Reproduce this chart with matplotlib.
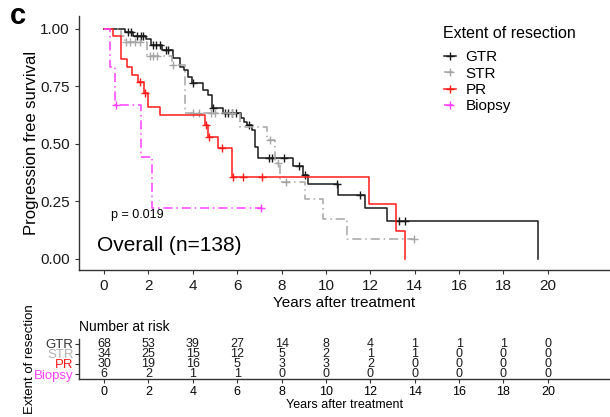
import numpy as np
import matplotlib
matplotlib.use("Agg")
import matplotlib.pyplot as plt
from matplotlib.lines import Line2D

plt.rcParams['font.family'] = ['Liberation Sans', 'DejaVu Sans']

# step curves (time in years, survival)
gtr_t = [0, 0.95, 1.3, 1.9, 2.1, 2.6, 3.1, 3.4, 3.6, 3.8, 3.95, 4.45, 4.7, 4.85, 5.35,
         6.15, 6.3, 6.45, 6.65, 6.8, 6.95, 8.53, 8.98, 9.2, 10.55, 11.76, 12.73, 19.56]
gtr_s = [1.0, 0.985, 0.971, 0.956, 0.93, 0.91, 0.873, 0.836, 0.822, 0.793, 0.764, 0.735, 0.713, 0.655, 0.633,
         0.611, 0.597, 0.583, 0.561, 0.488, 0.438, 0.405, 0.365, 0.326, 0.278, 0.222, 0.167, 0.0]
gtr_cens = [1.1, 1.2, 1.5, 1.65, 1.75, 2.2, 2.35, 2.5, 2.8, 2.9, 4.0, 4.9, 5.45, 5.6, 5.75, 5.95,
            6.55, 7.45, 7.55, 8.1, 8.8, 9.05, 10.48, 11.53, 13.3, 13.56]

str_t = [0, 0.75, 0.95, 1.92, 3.05, 3.65, 6.13, 7.33, 7.7, 7.93, 9.05, 9.88, 10.96, 13.96]
str_s = [1.0, 0.971, 0.941, 0.88, 0.843, 0.633, 0.575, 0.517, 0.416, 0.336, 0.26, 0.173, 0.086, 0.086]
str_cens = [1.0, 1.15, 1.4, 1.6, 2.07, 2.2, 2.37, 3.12, 4.0, 4.3, 4.8, 5.0, 5.75, 7.5, 7.85, 8.22, 13.96]

pr_t = [0, 0.42, 0.75, 1.02, 1.25, 1.55, 1.78, 2.0, 2.52, 4.55, 4.7, 5.15, 5.75, 11.95, 13.15, 13.56]
pr_s = [1.0, 0.967, 0.867, 0.833, 0.8, 0.767, 0.72, 0.66, 0.625, 0.583, 0.532, 0.481, 0.358, 0.24, 0.12, 0.0]
pr_cens = [1.62, 1.85, 4.6, 4.75, 5.3, 5.8, 6.28, 7.1]

bx_t = [0, 0.27, 0.5, 1.67, 2.17, 7.07]
bx_s = [1.0, 0.833, 0.667, 0.444, 0.222, 0.222]
bx_cens = [0.55, 7.07]

# number at risk
risk_times = [0, 2, 4, 6, 8, 10, 12, 14, 16, 18, 20]
gtr_risk = [68, 53, 39, 27, 14, 8, 4, 1, 1, 1, 0]
str_risk = [34, 25, 15, 12, 5, 2, 1, 1, 0, 0, 0]
pr_risk = [30, 19, 16, 5, 3, 3, 2, 0, 0, 0, 0]
bx_risk = [6, 2, 1, 1, 0, 0, 0, 0, 0, 0, 0]

groups = ['GTR', 'STR', 'PR', 'Biopsy']
colors = ['#1a1a1a', '#a6a6a6', '#ff1a1a', '#ff40ff']
label_colors = ['#333333', '#b3b3b3', '#ff1a1a', '#ff40ff']
dashdot = (0, (6, 2.5, 1, 2.5))
styles = ['-', dashdot, '-', dashdot]

curves = [(gtr_t, gtr_s, gtr_cens), (str_t, str_s, str_cens),
          (pr_t, pr_s, pr_cens), (bx_t, bx_s, bx_cens)]
risks = [gtr_risk, str_risk, pr_risk, bx_risk]

W, H = 610, 417
fig = plt.figure(figsize=(W / 100, H / 100), dpi=100)
ax = fig.add_axes([79 / W, 1 - 270 / H, 1 - 79 / W, 254 / H])
tab = fig.add_axes([79 / W, 1 - 379 / H, 1 - 79 / W, 40 / H])

xlim = (-1.13, 22.8)
for (t, s, c), col, ls in zip(curves, colors, styles):
    ax.step(t, s, where='post', color=col, ls=ls, lw=1.1)
    idx = np.searchsorted(t, c, side='right') - 1
    ax.plot(c, np.array(s)[idx], ls='none', marker='+', ms=6, mew=1.0, color=col)

ax.set_xlim(*xlim)
ax.set_ylim(-0.048, 1.056)
ax.set_xticks(risk_times)
ax.set_yticks([0, 0.25, 0.5, 0.75, 1.0])
ax.set_yticklabels(['0.00', '0.25', '0.50', '0.75', '1.00'])
for sp in ['top', 'right']:
    ax.spines[sp].set_visible(False)
for sp in ['left', 'bottom']:
    ax.spines[sp].set_color('#333333')
    ax.spines[sp].set_linewidth(1.0)
ax.tick_params(labelsize=11, length=3, color='#333333', labelcolor='#1a1a1a')
ax.set_xlabel('Years after treatment', fontsize=11, labelpad=2)
ax.set_ylabel('Progression free survival', fontsize=12)
ax.yaxis.set_label_coords(-0.0753, 0.5)

ax.text(-0.32, 0.06, 'Overall (n=138)', fontsize=15, ha='left', va='center')
ax.text(0.3, 0.19, 'p = 0.019', fontsize=9, ha='left', va='center')
fig.text(10 / W, 1 - 16 / H, 'c', fontsize=21, fontweight='bold', ha='left', va='center')

handles = [Line2D([], [], color=col, ls=ls, lw=1.1, marker='+', ms=6, mew=1.0)
           for col, ls in zip(colors, styles)]
fig.text(443 / W, 1 - 33 / H, 'Extent of resection', fontsize=11.5, ha='left', va='center')
leg = ax.legend(handles, groups, loc='upper left',
                bbox_to_anchor=(438 / W, 1 - 44 / H), bbox_transform=fig.transFigure,
                frameon=False, fontsize=11, handlelength=0.8,
                handletextpad=0.6, labelspacing=0.16, borderaxespad=0)

# risk table
rows = [3, 2, 1, 0]
for r, vals in zip(rows, risks):
    for x, v in zip(risk_times, vals):
        tab.text(x, r, str(v), fontsize=9, ha='center', va='center', color='#1a1a1a')
tab.set_xlim(*xlim)
tab.set_ylim(-0.5, 3.5)
tab.set_xticks(risk_times)
tab.set_yticks(rows)
tab.set_yticklabels(groups)
for lab, col in zip(tab.get_yticklabels(), label_colors):
    lab.set_color(col)
for sp in ['top', 'right']:
    tab.spines[sp].set_visible(False)
for sp in ['left', 'bottom']:
    tab.spines[sp].set_color('#333333')
    tab.spines[sp].set_linewidth(1.0)
tab.tick_params(labelsize=9, length=3, color='#333333', pad=2)
tab.tick_params(axis='y', labelsize=9.5, pad=1)
tab.set_xlabel('Years after treatment', fontsize=9, labelpad=1)
tab.set_ylabel('Extent of resection', fontsize=9.5)
tab.yaxis.set_label_coords(-0.081, 0.5)
tab.text(0.0, 1.3, 'Number at risk', transform=tab.transAxes, fontsize=10, ha='left', va='center')

fig.savefig('out.png', dpi=100)
